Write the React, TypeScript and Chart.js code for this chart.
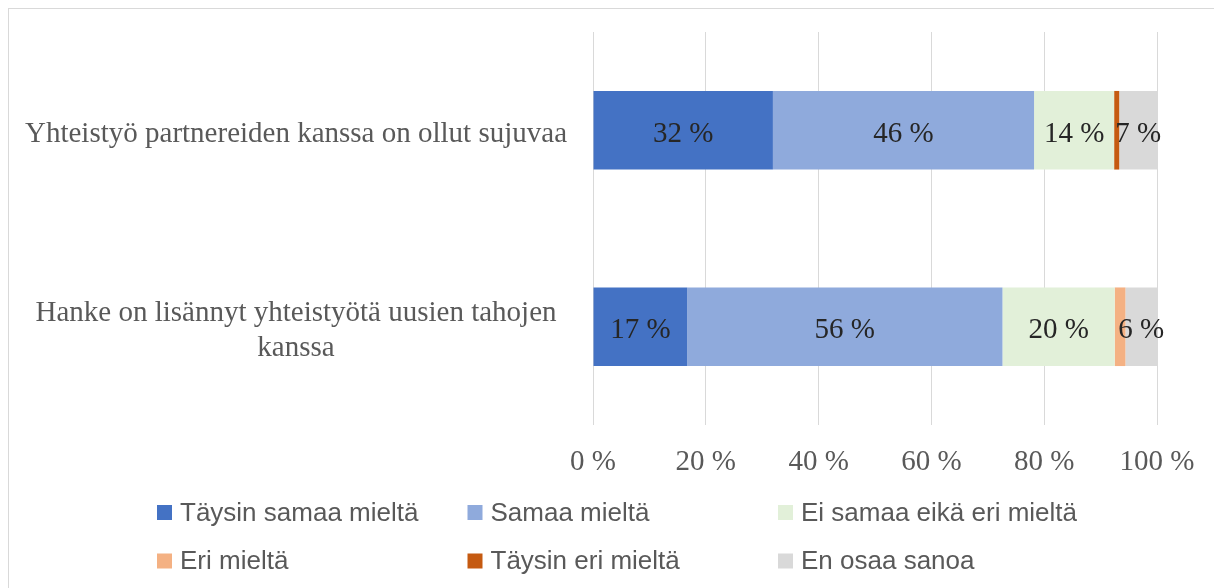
import React, { useEffect, useRef } from "react";
import { Chart, registerables } from "chart.js";

Chart.register(...registerables);

const categories: (string | string[])[] = [
  "Yhteistyö partnereiden kanssa on ollut sujuvaa",
  ["Hanke on lisännyt yhteistyötä uusien tahojen", "kanssa"],
];

const seriesNames = [
  "Täysin samaa mieltä",
  "Samaa mieltä",
  "Ei samaa eikä eri mieltä",
  "Eri mieltä",
  "Täysin eri mieltä",
  "En osaa sanoa",
];

const taysinSamaa = [31.9, 16.7];
const samaa = [46.3, 55.9];
const eiSamaaEikaEri = [14.2, 19.9];
const eri = [0, 1.9];
const taysinEri = [0.9, 0];
const enOsaa = [6.7, 5.6];

const seriesColors = ["#4472C4", "#8FAADC", "#E2F0D9", "#F4B183", "#C55A11", "#D9D9D9"];

const xTicks = [0, 20, 40, 60, 80, 100];

const SERIF = '"Liberation Serif", "Times New Roman", serif';
const SANS = '"Liberation Sans", Arial, sans-serif';

const dataLabelPlugin = {
  id: "dataLabelPlugin",
  afterDatasetsDraw(chart: any) {
    const ctx = chart.ctx;
    ctx.save();
    ctx.font = `29px ${SERIF}`;
    ctx.fillStyle = "#262626";
    ctx.textAlign = "center";
    ctx.textBaseline = "middle";
    chart.data.datasets.forEach((ds: any, di: number) => {
      const meta = chart.getDatasetMeta(di);
      meta.data.forEach((el: any, i: number) => {
        const v = ds.data[i];
        if (v < 3) return;
        const { x, base, y } = el.getProps(["x", "base", "y"], true);
        ctx.fillText(`${Math.round(v)} %`, (x + base) / 2, y + 4);
      });
    });
    ctx.restore();
  },
};

const legendPlugin = {
  id: "customLegend",
  afterDraw(chart: any) {
    const ctx = chart.ctx;
    ctx.save();
    ctx.font = `26px ${SANS}`;
    ctx.textBaseline = "middle";
    ctx.textAlign = "left";
    chart.data.datasets.forEach((ds: any, i: number) => {
      const col = i % 3;
      const row = Math.floor(i / 3);
      const bx = 157 + col * 310.5;
      const cy = 512.5 + row * 48.5;
      ctx.fillStyle = ds.backgroundColor;
      ctx.fillRect(bx, cy - 7.5, 15, 15);
      ctx.fillStyle = "#595959";
      ctx.fillText(ds.label, bx + 23, cy + 1);
    });
    ctx.restore();
  },
};

export default function App() {
  const canvasRef = useRef<HTMLCanvasElement | null>(null);

  useEffect(() => {
    if (!canvasRef.current) return;
    const seriesValues = [taysinSamaa, samaa, eiSamaaEikaEri, eri, taysinEri, enOsaa];
    const chart = new Chart(canvasRef.current, {
      type: "bar",
      data: {
        labels: categories as any,
        datasets: seriesValues.map((vals, i) => ({
          label: seriesNames[i],
          data: vals,
          backgroundColor: seriesColors[i],
          borderWidth: 0,
          categoryPercentage: 1,
          barPercentage: 0.4,
        })),
      },
      options: {
        indexAxis: "y",
        responsive: false,
        animation: false,
        devicePixelRatio: 1,
        layout: { padding: { top: 32, right: 57, bottom: 103, left: 0 } },
        plugins: {
          legend: { display: false },
          tooltip: { enabled: false },
          title: { display: false },
        },
        scales: {
          x: {
            stacked: true,
            min: 0,
            max: 100,
            afterBuildTicks: (scale: any) => {
              scale.ticks = xTicks.map((v) => ({ value: v }));
            },
            afterFit: (scale: any) => {
              scale.height = 60;
              scale.paddingLeft = 0;
              scale.paddingRight = 0;
            },
            grid: { color: "#D9D9D9", lineWidth: 1, drawTicks: false },
            border: { display: false },
            ticks: {
              padding: 20,
              color: "#595959",
              font: { family: SERIF, size: 29 },
              callback: (v: any) => `${v} %`,
            },
          },
          y: {
            stacked: true,
            afterFit: (scale: any) => {
              scale.width = 593;
              scale.paddingTop = 0;
              scale.paddingBottom = 0;
            },
            grid: { display: false, drawTicks: false },
            border: { display: false },
            ticks: {
              crossAlign: "center",
              padding: 26,
              labelOffset: 4,
              color: "#595959",
              font: { family: SERIF, size: 29, lineHeight: 1.2 },
            },
          },
        },
      },
      plugins: [dataLabelPlugin, legendPlugin],
    } as any);
    return () => chart.destroy();
  }, []);

  return (
    <div
      style={{
        position: "absolute",
        left: 0,
        top: 0,
        width: 1214,
        height: 588,
        overflow: "hidden",
        background: "#ffffff",
      }}
    >
      <div
        style={{
          position: "absolute",
          left: 8,
          top: 8,
          width: 1220,
          height: 600,
          border: "1px solid #D9D9D9",
          boxSizing: "border-box",
        }}
      />
      <canvas
        ref={canvasRef}
        width={1214}
        height={588}
        style={{ position: "absolute", left: 0, top: 0, width: 1214, height: 588 }}
      />
    </div>
  );
}
